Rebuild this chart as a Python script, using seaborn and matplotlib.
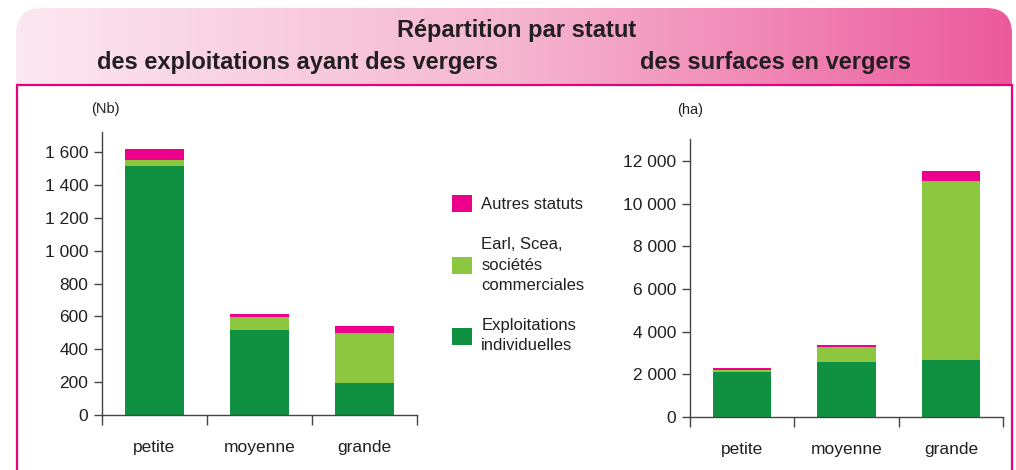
import matplotlib
matplotlib.use("Agg")
import matplotlib.pyplot as plt
import numpy as np
import pandas as pd
import seaborn as sns
from matplotlib.colors import LinearSegmentedColormap
from matplotlib.patches import FancyBboxPatch, Patch, Rectangle
from matplotlib.ticker import FixedFormatter, FixedLocator, FuncFormatter, NullFormatter

# Data
categories = ["petite", "moyenne", "grande"]
statuts = ["Exploitations\nindividuelles", "Earl, Scea,\nsociétés\ncommerciales", "Autres statuts"]

nb_individuelles = [1515, 518, 195]
nb_societes = [38, 79, 304]
nb_autres = [67, 18, 43]

ha_individuelles = [2120, 2590, 2680]
ha_societes = [95, 700, 8380]
ha_autres = [95, 95, 470]

nb_ticks = [0, 200, 400, 600, 800, 1000, 1200, 1400, 1600]
ha_ticks = [0, 2000, 4000, 6000, 8000, 10000, 12000]

colors = ["#109142", "#8dc63f", "#ec008c"]
pink = "#e6007e"
ink = "#231f20"

sns.set_style("ticks")
plt.rcParams["font.family"] = ["Liberation Sans", "DejaVu Sans"]

fig = plt.figure(figsize=(10.16, 4.70), dpi=100)
W, H = 1016, 470


def px_axes(x0, y0, x1, y1):
    # pixel box (top-left origin) -> figure axes
    return fig.add_axes([x0 / W, 1 - y1 / H, (x1 - x0) / W, (y1 - y0) / H])


# Header band with gradient and rounded top corners
hax = px_axes(16, 8, 1012, 84)
hax.set_xlim(0, 996)
hax.set_ylim(0, 76)
hax.set_axis_off()
cmap = LinearSegmentedColormap.from_list("hdr", ["#fce8f0", "#f5b6d0", "#ec5a9c"])
im = hax.imshow(np.linspace(0, 1, 512)[None, :], aspect="auto", cmap=cmap,
                extent=[0, 996, 0, 76], zorder=0)
clip = FancyBboxPatch((0, -40), 996, 116, boxstyle="round,pad=0,rounding_size=26",
                      facecolor="none", edgecolor="none", transform=hax.transData)
hax.add_patch(clip)
im.set_clip_path(clip)

# Pink frame
fig.add_artist(Rectangle((17 / W, -0.05), (1012 - 17) / W, 1.05 - 85 / H,
                         transform=fig.transFigure, fill=False,
                         edgecolor=pink, linewidth=1.6))

title_kw = dict(ha="center", va="center", fontsize=17, fontweight="bold", color=ink)
fig.text(517 / W, 1 - 30 / H, "Répartition par statut", **title_kw)
fig.text(297 / W, 1 - 62 / H, "des exploitations ayant des vergers", **title_kw)
fig.text(776 / W, 1 - 62 / H, "des surfaces en vergers", **title_kw)


def stacked(ax, layers, ticks, ymax, unit):
    df = pd.DataFrame(dict(zip(statuts, layers)), index=categories)
    cum = df.cumsum(axis=1)
    for name, color in reversed(list(zip(statuts, colors))):
        sns.barplot(x=categories, y=cum[name].values, color=color, saturation=1,
                    width=0.56, linewidth=0, ax=ax)
    ax.set_xlim(-0.5, 2.5)
    ax.set_ylim(0, ymax)
    ax.set_xlabel("")
    ax.set_ylabel("")
    ax.xaxis.set_major_locator(FixedLocator([-0.5, 0.5, 1.5, 2.5]))
    ax.xaxis.set_major_formatter(NullFormatter())
    ax.xaxis.set_minor_locator(FixedLocator([0, 1, 2]))
    ax.xaxis.set_minor_formatter(FixedFormatter(categories))
    ax.yaxis.set_major_locator(FixedLocator(ticks))
    ax.yaxis.set_major_formatter(FuncFormatter(lambda v, p: f"{int(v):,}".replace(",", " ")))
    ax.tick_params(axis="x", which="major", length=7, width=1, color="#444444")
    ax.tick_params(axis="x", which="minor", length=0, pad=18, labelsize=12.5, labelcolor=ink)
    ax.tick_params(axis="y", length=6, width=1, color="#444444", pad=4,
                   labelsize=12.5, labelcolor=ink)
    sns.despine(ax=ax)
    for side in ("left", "bottom"):
        ax.spines[side].set_color("#444444")
        ax.spines[side].set_linewidth(1)
    ax.text(0.0, 1.0, unit, transform=ax.transAxes, fontsize=10.5, color=ink,
            ha="center", va="bottom")
    ax.patch.set_alpha(0)


ax1 = px_axes(102, 132, 417, 415)
stacked(ax1, [nb_individuelles, nb_societes, nb_autres], nb_ticks, 1723, "(Nb)")
ax1.texts[-1].set_position((0.01, 1 + 16 / 283))

ax2 = px_axes(690, 139, 1003, 417)
stacked(ax2, [ha_individuelles, ha_societes, ha_autres], ha_ticks, 13030, "(ha)")
ax2.texts[-1].set_position((0.0, 1 + 22 / 278))

handles = [Patch(facecolor=c, edgecolor="none") for c in colors]
leg = fig.legend(handles[::-1], statuts[::-1], loc="upper left",
                 bbox_to_anchor=(452 / W, 1 - 195 / H), frameon=False, fontsize=12,
                 handlelength=1.2, handleheight=1.2, handletextpad=0.55,
                 labelspacing=1.5, borderpad=0, borderaxespad=0, labelcolor=ink)
for t in leg.get_texts():
    t.set_linespacing(1.45)

fig.savefig("out.png", dpi=100)
